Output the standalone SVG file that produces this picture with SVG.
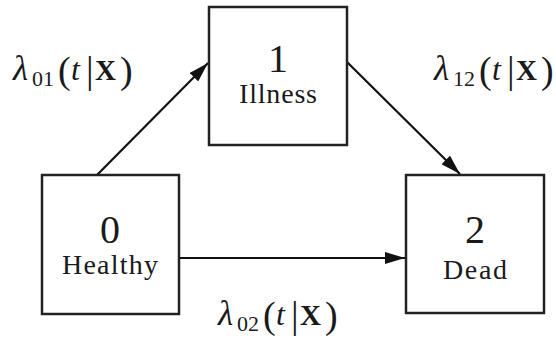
<svg xmlns="http://www.w3.org/2000/svg" width="556" height="342" viewBox="0 0 556 342">
<style>
text{font-family:'Liberation Serif','DejaVu Serif','Times New Roman',serif;fill:#1a1a1a}
.box{fill:#fff;stroke:#222;stroke-width:2.5}
.num{font-size:40px;text-anchor:middle}
.lbl{font-size:28px;text-anchor:middle}
.lam{font-size:35px;font-style:italic}
.sub{font-size:22px}
.par{font-size:38px;font-weight:300}
.t{font-size:32px;font-style:italic}
.X{font-size:29px;font-weight:bold}
.edge{stroke:#111;stroke-width:2.2;marker-end:url(#ah)}
</style>
<defs>
<marker id="ah" viewBox="0 0 20 12" refX="20" refY="6" markerWidth="20" markerHeight="12" markerUnits="userSpaceOnUse" orient="auto">
<path d="M0,0 L20,6 L0,12 z" fill="#111"/>
</marker>
</defs>
<g id="connectors">
<line class="edge" x1="97" y1="175" x2="208" y2="63"/>
<line class="edge" x1="347" y1="62" x2="460" y2="174"/>
<line class="edge" x1="179" y1="258" x2="405" y2="258"/>
</g>
<g id="node0">
<rect class="box" x="42" y="175" width="137" height="139"/>
<text class="num" x="110" y="243">0</text>
<text class="lbl" x="110" y="274" textLength="96" lengthAdjust="spacing">Healthy</text>
</g>
<g id="node1">
<rect class="box" x="209" y="7" width="138" height="138"/>
<text class="num" x="278" y="72">1</text>
<text class="lbl" x="278" y="103" textLength="78" lengthAdjust="spacing">Illness</text>
</g>
<g id="node2">
<rect class="box" x="406" y="175" width="138" height="138"/>
<text class="num" x="475" y="243">2</text>
<text class="lbl" x="475" y="279" textLength="64" lengthAdjust="spacing">Dead</text>
</g>
<g id="label01" transform="translate(13,80)">
<text class="lam" x="0" y="0">λ</text>
<text class="sub" x="19" y="6">01</text>
<text class="par" x="45" y="3">(</text>
<text class="t" x="58" y="0">t</text>
<text class="par" x="73" y="3">|</text>
<text class="X" x="82" y="0">X</text>
<text class="par" x="107" y="3">)</text>
</g>
<g id="label12" transform="translate(434,80)">
<text class="lam" x="0" y="0">λ</text>
<text class="sub" x="19" y="6">12</text>
<text class="par" x="45" y="3">(</text>
<text class="t" x="58" y="0">t</text>
<text class="par" x="73" y="3">|</text>
<text class="X" x="82" y="0">X</text>
<text class="par" x="107" y="3">)</text>
</g>
<g id="label02" transform="translate(218,325)">
<text class="lam" x="0" y="0">λ</text>
<text class="sub" x="19" y="6">02</text>
<text class="par" x="45" y="3">(</text>
<text class="t" x="58" y="0">t</text>
<text class="par" x="73" y="3">|</text>
<text class="X" x="82" y="0">X</text>
<text class="par" x="107" y="3">)</text>
</g>
</svg>
